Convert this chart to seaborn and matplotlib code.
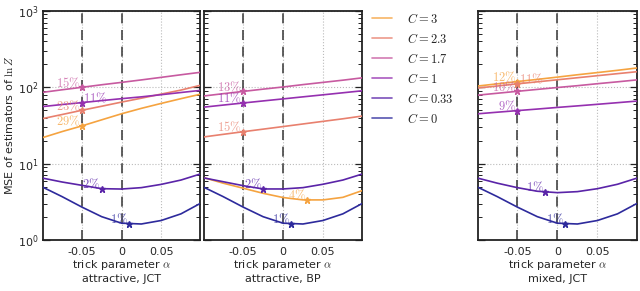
import numpy as np
import pandas as pd
import matplotlib
matplotlib.use("Agg")
import matplotlib.pyplot as plt
from matplotlib.font_manager import FontProperties
from matplotlib.lines import Line2D
from matplotlib.ticker import LogLocator, NullFormatter
import seaborn as sns

# trick parameter grid (shared by all panels)
alpha = [-0.099, -0.075, -0.05, -0.025, 0.0, 0.025, 0.05, 0.075, 0.099]
c_labels = ["3", "2.3", "1.7", "1", "0.33", "0"]
colors = ["#f5a340", "#e8806e", "#c75aa0", "#9530b0", "#5a24a8", "#2d2a9c"]

# attractive, JCT
jct_c3 = [22, 26.3, 31.2, 37.5, 45, 53, 61.5, 71, 81]
jct_c23 = [39, 44, 50, 56.5, 64, 72, 81.5, 92, 106]
jct_c17 = [86, 92.8, 100, 108, 116, 125, 135, 146, 157]
jct_c1 = [56, 59.5, 63, 67, 71, 75, 80, 85.5, 91]
jct_c033 = [6.45, 5.75, 5.2, 4.7, 4.65, 4.85, 5.35, 6.1, 7.3]
jct_c0 = [4.9, 3.7, 2.7, 2.02, 1.66, 1.62, 1.8, 2.2, 3.0]

# attractive, BP
bp_c3 = [6.55, 5.55, 4.77, 4.09, 3.6, 3.35, 3.35, 3.62, 4.43]
bp_c23 = [22.4, 24.2, 26.2, 28.3, 30.6, 33.1, 35.8, 38.7, 42]
bp_c17 = [77, 82.5, 88.3, 94.6, 101, 108.5, 116, 124, 133]
bp_c1 = [55, 58.5, 62.3, 66.3, 70.5, 75, 79.7, 84.8, 90]
bp_c033 = [6.5, 5.8, 5.15, 4.66, 4.66, 4.85, 5.37, 6.1, 7.3]
bp_c0 = [4.9, 3.7, 2.7, 2.02, 1.66, 1.62, 1.8, 2.2, 3.0]

# mixed, JCT
mix_c3 = [104, 111, 119, 127, 136, 146, 156, 167, 179]
mix_c23 = [98, 104, 111, 118, 125.5, 133.5, 142, 151, 160]
mix_c17 = [79, 83.6, 88.6, 93.9, 99.4, 105, 111.5, 118, 125]
mix_c1 = [45, 47.2, 49.5, 51.9, 54.5, 57.1, 59.9, 62.9, 66]
mix_c033 = [6.45, 5.55, 4.85, 4.35, 4.17, 4.3, 4.7, 5.37, 6.45]
mix_c0 = [4.9, 3.7, 2.7, 2.02, 1.66, 1.62, 1.8, 2.2, 3.0]

# best-alpha markers: position and relative improvement labels
jct_best = [-0.05, -0.05, -0.05, -0.05, -0.025, 0.01]
jct_pct = ["29", "23", "15", "11", "2", "1"]
jct_side = ["l", "l", "l", "r", "l", "l"]
bp_best = [0.03, -0.05, -0.05, -0.05, -0.025, 0.01]
bp_pct = ["4", "15", "13", "11", "2", "1"]
bp_side = ["l", "l", "l", "l", "l", "l"]
mix_best = [-0.05, -0.05, -0.05, -0.05, -0.015, 0.01]
mix_pct = ["12", "11", "10", "9", "1", "1"]
mix_side = ["l", "r", "l", "l", "l", "l"]

panels = [
    ("attractive, JCT", [jct_c3, jct_c23, jct_c17, jct_c1, jct_c033, jct_c0], jct_best, jct_pct, jct_side),
    ("attractive, BP", [bp_c3, bp_c23, bp_c17, bp_c1, bp_c033, bp_c0], bp_best, bp_pct, bp_side),
    ("mixed, JCT", [mix_c3, mix_c23, mix_c17, mix_c1, mix_c033, mix_c0], mix_best, mix_pct, mix_side),
]

sns.set_style("ticks")
plt.rcParams["font.family"] = ["DejaVu Sans"]
plt.rcParams["font.size"] = 8
plt.rcParams["xtick.direction"] = "in"
plt.rcParams["ytick.direction"] = "in"

fig = plt.figure(figsize=(6.4, 2.91), dpi=100)
rects = [[0.0672, 0.1753, 0.2453, 0.787],
         [0.3187, 0.1753, 0.2470, 0.787],
         [0.7469, 0.1753, 0.2480, 0.787]]
cm = {"math_fontfamily": "cm"}

for i, (title, series, best, pct, side) in enumerate(panels):
    ax = fig.add_axes(rects[i])
    rows = []
    for lab, vals in zip(c_labels, series):
        for a, v in zip(alpha, vals):
            rows.append({"alpha": a, "mse": v, "C": lab})
    df = pd.DataFrame(rows)
    sns.lineplot(data=df, x="alpha", y="mse", hue="C", hue_order=c_labels,
                 palette=colors, lw=1.2, legend=False, ax=ax, zorder=3)
    ax.set_yscale("log")
    ax.set_ylim(1, 1000)
    ax.yaxis.set_major_locator(LogLocator(base=10))
    ax.yaxis.set_minor_locator(LogLocator(base=10, subs=np.arange(2, 10), numticks=20))
    ax.yaxis.set_minor_formatter(NullFormatter())
    ax.set_xlim(-0.099, 0.099)
    ax.set_xticks([-0.05, 0, 0.05])
    ax.set_xticklabels(["-0.05", "0", "0.05"])
    ax.grid(True, which="major", ls=":", color="#bbbbbb", lw=0.8)
    for xv in [-0.05, 0]:
        ax.axvline(xv, color="#444444", ls=(0, (6, 4)), lw=1.2, zorder=2)
    ax.tick_params(axis="x", length=0, pad=5, labelsize=8)
    ax.tick_params(axis="y", which="both", direction="in", left=True, right=True,
                   labelsize=8, color="#222222")
    ax.tick_params(axis="y", which="major", length=5, width=0.9)
    ax.tick_params(axis="y", which="minor", length=3, width=0.7)
    for s in ax.spines.values():
        s.set_visible(True)
        s.set_linewidth(1.3)
        s.set_color("#222222")
    if i > 0:
        ax.set_yticklabels([])
        ax.set_ylabel("")
    else:
        ax.set_ylabel(r"MSE of estimators of $\ln Z$", fontsize=8, labelpad=2, **cm)
    ax.set_xlabel("trick parameter $\\alpha$\n" + title, fontsize=8, labelpad=1,
                  linespacing=1.25, **cm)

    for k, vals in enumerate(series):
        yb = 10 ** np.interp(best[k], alpha, np.log10(vals))
        ax.plot(best[k], yb, marker="*", ms=5, color=colors[k], ls="none", zorder=4)
        if side[k] == "l":
            ax.annotate(r"$%s\%%$" % pct[k], (best[k], yb), xytext=(-1, -2),
                        textcoords="offset points", ha="right", va="bottom",
                        color=colors[k], alpha=0.75, fontsize=9, **cm)
        else:
            ax.annotate(r"$%s\%%$" % pct[k], (best[k], yb), xytext=(1, -2),
                        textcoords="offset points", ha="left", va="bottom",
                        color=colors[k], alpha=0.75, fontsize=9, **cm)

handles = [Line2D([0], [0], color=c, lw=1.2, alpha=0.8) for c in colors]
labels = [r"$C = %s$" % c for c in c_labels]
fig.legend(handles, labels, loc="upper left", bbox_to_anchor=(0.581, 0.96),
           frameon=False, borderpad=0, borderaxespad=0, handlelength=1.6,
           handletextpad=1.2, labelspacing=0.48,
           prop=FontProperties(size=9, math_fontfamily="cm"))

fig.savefig("out.png", dpi=100)
